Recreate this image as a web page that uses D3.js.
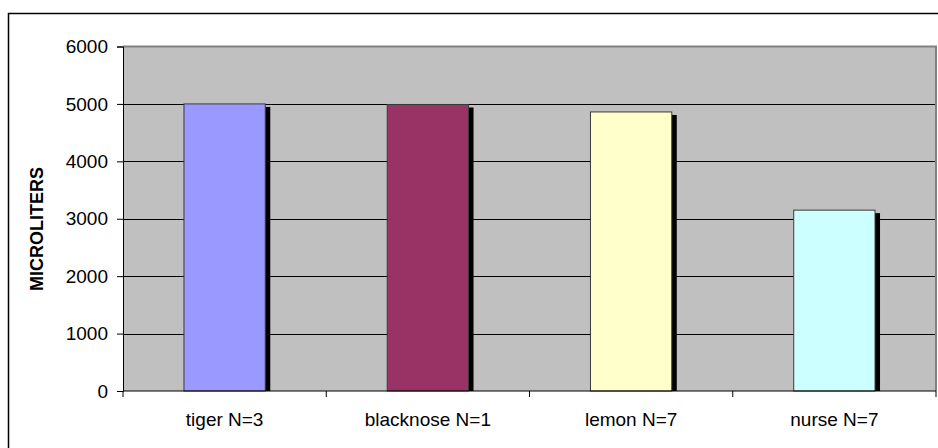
<!DOCTYPE html>
<html>
<head>
<meta charset="utf-8">
<script src="https://cdn.jsdelivr.net/npm/d3@7"></script>
<style>
  body { margin: 0; background: #fff; }
  svg { display: block; font-family: Arial, "Liberation Sans", sans-serif; }
</style>
</head>
<body>
<svg id="chart" width="938" height="448"></svg>
<script>
/* global d3 */

// data
var categories = ["tiger N=3", "blacknose N=1", "lemon N=7", "nurse N=7"];
var values = [5000, 4990, 4860, 3150];
var barColors = ["#9999FF", "#993366", "#FFFFCC", "#CCFFFF"];
var yTicks = [0, 1000, 2000, 3000, 4000, 5000, 6000];
var yTitle = "MICROLITERS";

var svg = d3.select("#chart");

var plot = { left: 123, top: 46.5, right: 936, bottom: 391 };

// outer frame, cut by the right and bottom edge of the picture
svg.append("rect")
    .attr("x", 8.5).attr("y", 13.5)
    .attr("width", 940).attr("height", 450)
    .attr("fill", "#fff")
    .attr("stroke", "#000")
    .attr("stroke-width", 1.5);

var x = d3.scaleBand()
    .domain(categories)
    .range([plot.left, plot.right])
    .paddingInner(0.6)
    .paddingOuter(0.3);

var xOuter = d3.scaleBand()
    .domain(categories)
    .range([plot.left, plot.right]);

var y = d3.scaleLinear()
    .domain([0, 6000])
    .range([plot.bottom, plot.top]);

// plot area
svg.append("rect")
    .attr("x", plot.left).attr("y", plot.top)
    .attr("width", plot.right - plot.left)
    .attr("height", plot.bottom - plot.top)
    .attr("fill", "#C0C0C0");

// gridlines
svg.append("g")
    .selectAll("line")
    .data(yTicks.filter(function (d) { return d > 0 && d < 6000; }))
    .join("line")
    .attr("x1", plot.left).attr("x2", plot.right)
    .attr("y1", function (d) { return Math.round(y(d)) + 0.5; })
    .attr("y2", function (d) { return Math.round(y(d)) + 0.5; })
    .attr("stroke", "#000")
    .attr("stroke-width", 1);

// plot border top and right
svg.append("path")
    .attr("d", "M" + plot.left + "," + plot.top + "H" + plot.right + "V" + plot.bottom)
    .attr("fill", "none")
    .attr("stroke", "#808080")
    .attr("stroke-width", 2);

// shadows
svg.append("g")
    .selectAll("rect")
    .data(values)
    .join("rect")
    .attr("x", function (d, i) { return x(categories[i]) + 5; })
    .attr("y", function (d) { return y(d) + 3; })
    .attr("width", x.bandwidth())
    .attr("height", function (d) { return plot.bottom - y(d) - 3; })
    .attr("fill", "#000");

// bars
svg.append("g")
    .selectAll("rect")
    .data(values)
    .join("rect")
    .attr("x", function (d, i) { return x(categories[i]); })
    .attr("y", function (d) { return y(d); })
    .attr("width", x.bandwidth())
    .attr("height", function (d) { return plot.bottom - y(d); })
    .attr("fill", function (d, i) { return barColors[i]; })
    .attr("stroke", "#3a3a3a")
    .attr("stroke-width", 1);

// y axis
var yAxis = svg.append("g")
    .attr("transform", "translate(" + plot.left + ",0)")
    .call(d3.axisLeft(y).tickValues(yTicks).tickSize(6).tickPadding(9).tickFormat(d3.format("d")));
yAxis.select(".domain").attr("stroke", "#000");
yAxis.selectAll(".tick line").attr("stroke", "#000");
yAxis.selectAll("text")
    .attr("font-size", 19)
    .attr("font-family", "Arial, 'Liberation Sans', sans-serif")
    .attr("fill", "#000");

// x axis with ticks at the category borders
var xAxisG = svg.append("g")
    .attr("transform", "translate(0," + plot.bottom + ")");
xAxisG.append("line")
    .attr("x1", plot.left).attr("x2", plot.right)
    .attr("y1", 0).attr("y2", 0)
    .attr("stroke", "#000");
xAxisG.selectAll("line.tk")
    .data(categories.concat(["end"]))
    .join("line")
    .attr("class", "tk")
    .attr("x1", function (d, i) { return i < categories.length ? xOuter(d) : plot.right; })
    .attr("x2", function (d, i) { return i < categories.length ? xOuter(d) : plot.right; })
    .attr("y1", 0).attr("y2", 6)
    .attr("stroke", "#000");
xAxisG.selectAll("text")
    .data(categories)
    .join("text")
    .attr("x", function (d) { return xOuter(d) + xOuter.bandwidth() / 2; })
    .attr("y", 35)
    .attr("text-anchor", "middle")
    .attr("font-size", 19)
    .attr("fill", "#000")
    .text(function (d) { return d; });

// y title
svg.append("text")
    .attr("transform", "translate(43,229) rotate(-90)")
    .attr("text-anchor", "middle")
    .attr("font-size", 18)
    .attr("font-weight", "bold")
    .attr("fill", "#000")
    .text(yTitle);
</script>
</body>
</html>
